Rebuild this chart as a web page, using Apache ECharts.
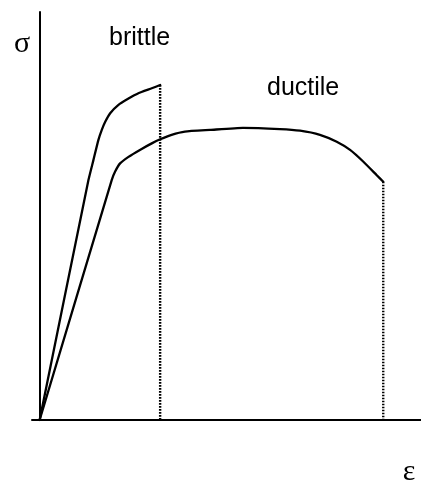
<!DOCTYPE html>
<html>
<head>
<meta charset="utf-8">
<script src="https://cdn.jsdelivr.net/npm/echarts@6/dist/echarts.min.js"></script>
<style>
  html, body { margin: 0; padding: 0; background: #fff; }
</style>
</head>
<body>
<div id="ssChart" style="width:421px;height:484px;"></div>
<script>
  // strain (x) / stress (y), arbitrary units
  var brittleX = [0, 12.8, 14.1, 15.4, 16.3, 17.2, 18.5, 20.6, 23.3, 25.9, 29.4, 31.6];
  var brittleY = [0, 58.8, 63.7, 68.6, 71.1, 73.1, 75.2, 77.2, 78.8, 80.1, 81.3, 82.1];
  var ductileX = [0, 18.9, 19.8, 21.1, 23.3, 26.3, 29.4, 31.6, 34.6, 38.1, 44.7, 53.3, 63.0, 68.3, 73.5, 77.9, 81.4, 84.9, 88.4, 90.1];
  var ductileY = [0, 58.8, 60.9, 62.9, 64.5, 66.2, 67.8, 68.8, 69.9, 70.7, 71.1, 71.6, 71.3, 70.9, 69.9, 68.2, 66.2, 63.3, 60.0, 58.4];
  var labels = ['brittle', 'ductile'];

  function pairs(xs, ys) {
    var out = [];
    for (var i = 0; i < xs.length; i++) {
      out.push([xs[i], ys[i]]);
    }
    return out;
  }
  // fracture point dropped to the strain axis
  function dropLine(xs, ys) {
    var last = xs.length - 1;
    return [[xs[last], ys[last]], [xs[last], 0]];
  }

  var curveStyle = {color: '#000', width: 2.3, join: 'round', cap: 'round'};
  var dotStyle = {color: '#000', width: 2.4, type: [1.6, 1.4]};

  var option = {
    animation: false,
    grid: {left: 32, right: 0, top: 12, bottom: 64},
    xAxis: {
      type: 'value',
      min: -2,
      max: 100,
      axisLine: {show: true, lineStyle: {color: '#000', width: 2}},
      axisTick: {show: false},
      axisLabel: {show: false},
      splitLine: {show: false}
    },
    yAxis: {
      type: 'value',
      min: 0,
      max: 100,
      axisLine: {show: true, onZero: true, lineStyle: {color: '#000', width: 2}},
      axisTick: {show: false},
      axisLabel: {show: false},
      splitLine: {show: false}
    },
    graphic: [
      {type: 'text', x: 22, y: 44, style: {text: 'σ', font: '30px "Liberation Serif"', fill: '#000', align: 'center', verticalAlign: 'middle'}},
      {type: 'text', x: 409, y: 472, style: {text: 'ε', font: '30px "Liberation Serif"', fill: '#000', align: 'center', verticalAlign: 'middle'}},
      {type: 'text', x: 109, y: 38, style: {text: labels[0], font: '25px "Liberation Sans"', fill: '#000', align: 'left', verticalAlign: 'middle'}},
      {type: 'text', x: 267, y: 88, style: {text: labels[1], font: '25px "Liberation Sans"', fill: '#000', align: 'left', verticalAlign: 'middle'}}
    ],
    series: [
      {name: labels[0], type: 'line', data: pairs(brittleX, brittleY), showSymbol: false, smooth: 0.15, lineStyle: curveStyle},
      {name: labels[1], type: 'line', data: pairs(ductileX, ductileY), showSymbol: false, smooth: 0.15, lineStyle: curveStyle},
      {type: 'line', data: dropLine(brittleX, brittleY), showSymbol: false, lineStyle: dotStyle},
      {type: 'line', data: dropLine(ductileX, ductileY), showSymbol: false, lineStyle: dotStyle}
    ]
  };

  var ssChart = echarts.init(document.getElementById('ssChart'));
  ssChart.setOption(option);
</script>
</body>
</html>
